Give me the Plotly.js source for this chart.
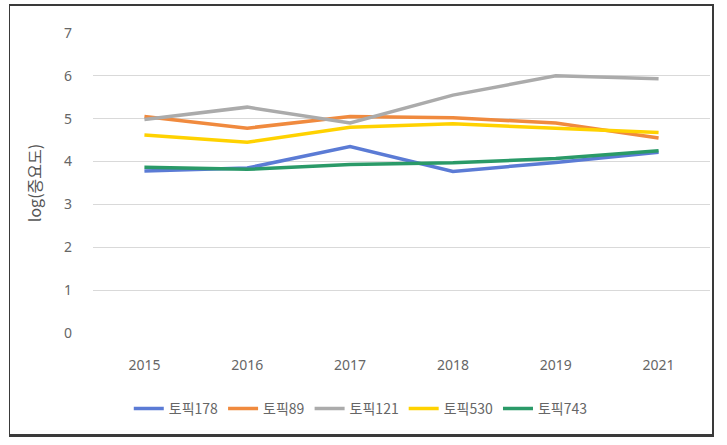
<!DOCTYPE html>
<html>
<head>
<meta charset="utf-8">
<script src="https://cdn.plot.ly/plotly-3.0.1.min.js"></script>
<style>
  body { margin: 0; padding: 0; background: #ffffff; }
  #wrap { position: relative; width: 727px; height: 445px; }
  #chart { position: absolute; left: 0; top: 0; width: 727px; height: 445px; }
  #frame { position: absolute; left: 9px; top: 4px; width: 702px; height: 428px;
           border-top: 2px solid #3a3a3a; border-left: 1px solid #3a3a3a;
           border-right: 2px solid #3a3a3a; border-bottom: 3px solid #3a3a3a;
           pointer-events: none; }
</style>
</head>
<body>
<div id="wrap">
  <div id="chart"></div>
  <div id="frame"></div>
</div>
<script>
const categories = ["2015", "2016", "2017", "2018", "2019", "2021"];
const seriesNames = ["토픽178", "토픽89", "토픽121", "토픽530", "토픽743"];
const topic178 = [3.78, 3.85, 4.35, 3.77, 3.98, 4.22];
const topic89  = [5.05, 4.78, 5.05, 5.02, 4.90, 4.55];
const topic121 = [4.98, 5.27, 4.90, 5.55, 6.00, 5.93];
const topic530 = [4.62, 4.45, 4.80, 4.88, 4.78, 4.68];
const topic743 = [3.87, 3.82, 3.93, 3.97, 4.07, 4.25];
const yTicks = [0, 1, 2, 3, 4, 5, 6, 7];
const colors = ["#5B7BD5", "#F08A3E", "#ABABAB", "#FFD200", "#2A9A68"];

const values = [topic178, topic89, topic121, topic530, topic743];
const traces = values.map((v, i) => ({
  type: "scatter",
  mode: "lines",
  name: seriesNames[i],
  x: categories,
  y: v,
  line: { color: colors[i], width: 3.5 }
}));

const layout = {
  width: 727,
  height: 445,
  margin: { l: 93, r: 17, t: 33, b: 112 },
  paper_bgcolor: "#ffffff",
  plot_bgcolor: "#ffffff",
  font: { family: "Noto Sans, Noto Sans CJK KR, sans-serif", color: "#666666", size: 14 },
  xaxis: {
    type: "category",
    range: [-0.5, 5.5],
    showgrid: false,
    showline: false,
    zeroline: false,
    ticks: "",
    ticklen: 0,
    ticklabelstandoff: 22,
    tickfont: { size: 14, color: "#666666" }
  },
  yaxis: {
    range: [0, 7],
    tickvals: yTicks,
    showgrid: true,
    gridcolor: "#d9d9d9",
    gridwidth: 1,
    zeroline: false,
    showline: false,
    ticks: "",
    ticklabelstandoff: 20,
    tickfont: { size: 14, color: "#666666" },
    title: { text: "log(중요도)", font: { size: 16, color: "#555555", family: "Noto Sans CJK KR, sans-serif" }, standoff: 18 }
  },
  showlegend: true,
  legend: {
    orientation: "h",
    x: 0.434,
    xanchor: "center",
    y: -0.2,
    yanchor: "top",
    itemwidth: 30,
    tracegroupgap: 0,
    font: { size: 14, color: "#666666", family: "Noto Sans CJK KR, sans-serif" }
  }
};

Plotly.newPlot("chart", traces, layout, { displayModeBar: false, staticPlot: true });
</script>
</body>
</html>
